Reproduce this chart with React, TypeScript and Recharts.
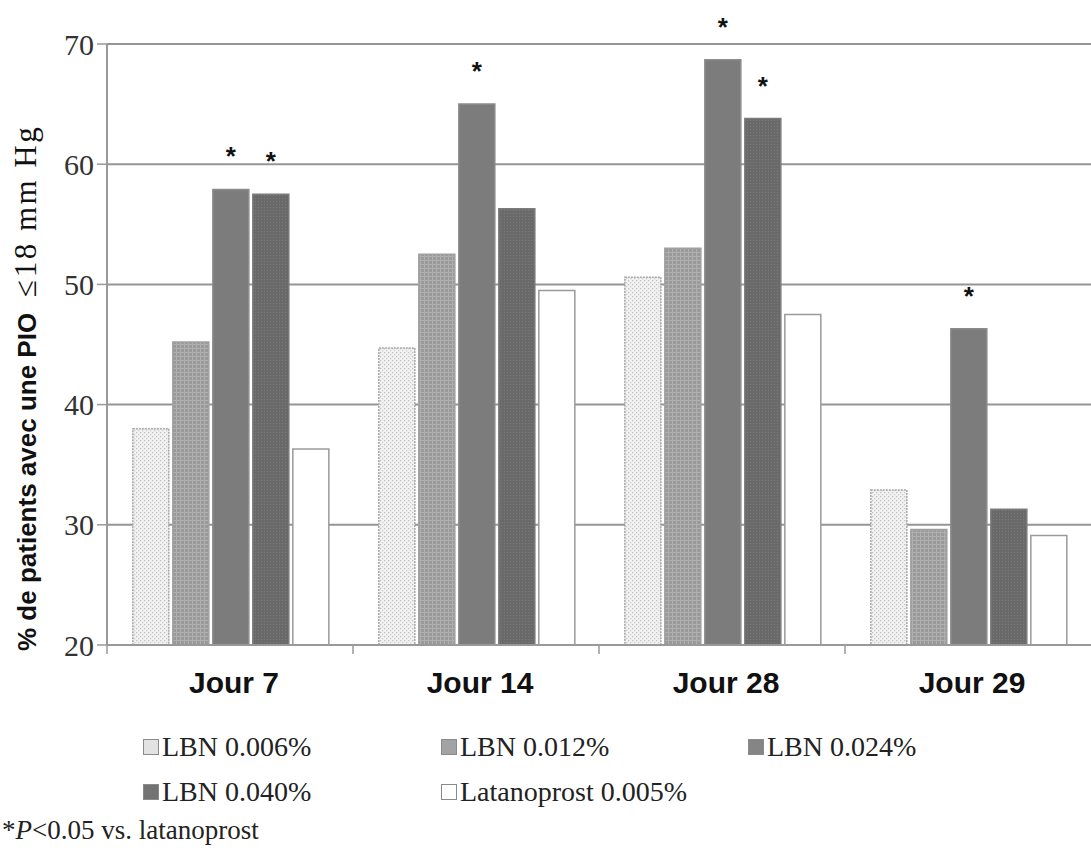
import React from 'react'
import { BarChart, Bar, XAxis, YAxis, CartesianGrid, LabelList } from 'recharts'

// Valeurs (% de patients avec PIO <= 18 mm Hg)
const categories = ['Jour 7', 'Jour 14', 'Jour 28', 'Jour 29']
const lbn006 = [38.0, 44.7, 50.6, 32.9]
const lbn012 = [45.2, 52.5, 53.0, 29.6]
const lbn024 = [57.9, 65.0, 68.7, 46.3]
const lbn040 = [57.5, 56.3, 63.8, 31.3]
const latanoprost = [36.3, 49.5, 47.5, 29.1]
// * P<0.05 vs. latanoprost
const sig024 = [true, true, true, true]
const sig040 = [true, false, true, false]
const yTicks = [20, 30, 40, 50, 60, 70]

const data = categories.map((day, i) => ({
  day,
  lbn006: lbn006[i],
  lbn012: lbn012[i],
  lbn024: lbn024[i],
  lbn040: lbn040[i],
  latanoprost: latanoprost[i],
}))

const series = [
  { key: 'lbn006', label: 'LBN 0.006%', fill: 'url(#p006)', stroke: '#a8a8a8', dash: '2 1', swatch: '#e2e2e2' },
  { key: 'lbn012', label: 'LBN 0.012%', fill: 'url(#p012)', stroke: '#a0a0a0', dash: undefined, swatch: '#a3a3a3' },
  { key: 'lbn024', label: 'LBN 0.024%', fill: '#7c7c7c', stroke: '#8c8c8c', dash: undefined, swatch: '#858585' },
  { key: 'lbn040', label: 'LBN 0.040%', fill: 'url(#p040)', stroke: '#7c7c7c', dash: undefined, swatch: '#737373' },
  { key: 'latanoprost', label: 'Latanoprost 0.005%', fill: '#ffffff', stroke: '#9a9a9a', dash: undefined, swatch: '#ffffff' },
]

const serif = '"Liberation Serif", "Times New Roman", serif'
const sans = '"Liberation Sans", Arial, sans-serif'

// tick de l'axe X : trait aux limites des catégories + libellé centré
function XTick(props: any) {
  const { x, y, payload } = props
  const off = payload?.offset ?? 123
  return (
    <g>
      <line x1={x - off} x2={x - off} y1={y} y2={y + 9} stroke="#999" strokeWidth={1.5} />
      <text x={x + 4} y={y + 48} textAnchor="middle" fontFamily={sans} fontWeight="bold" fontSize={30} fill="#111">
        {payload.value}
      </text>
    </g>
  )
}

function YLabel(props: any) {
  const vb = props.viewBox || { x: 0, y: 44, width: 107, height: 601 }
  const cx = 36
  const cy = vb.y + vb.height + 6
  return (
    <text transform={`translate(${cx},${cy}) rotate(-90)`} textAnchor="start" fill="#111">
      <tspan fontFamily={sans} fontWeight="bold" fontSize={26}>
        % de patients avec une PIO
      </tspan>
      <tspan fontFamily={serif} fontSize={31} dx={16} letterSpacing={2.5}>
        ≤18 mm Hg
      </tspan>
    </text>
  )
}

function starLabel(sig: boolean[]) {
  return (props: any) => {
    const { x, y, width, index } = props
    if (!sig[index]) return null
    return (
      <text x={x + width / 2} y={y - 24} textAnchor="middle" fontFamily={sans} fontWeight="bold" fontSize={26} fill="#111">
        *
      </text>
    )
  }
}

export default function App() {
  return (
    <div style={{ position: 'absolute', left: 0, top: 0, width: 1091, height: 848, background: '#fff', overflow: 'hidden' }}>
      <BarChart
        width={1091}
        height={710}
        data={data}
        margin={{ top: 44, right: 0, left: 0, bottom: 0 }}
        barCategoryGap="10.5%"
        barGap={4}
      >
        <defs>
          <pattern id="p006" width="4" height="4" patternUnits="userSpaceOnUse">
            <rect width="4" height="4" fill="#f2f2f2" />
            <rect x="0" y="0" width="1.3" height="1.3" fill="#c4c4c4" />
            <rect x="2" y="2" width="1.3" height="1.3" fill="#cfcfcf" />
          </pattern>
          <pattern id="p012" width="4" height="4" patternUnits="userSpaceOnUse">
            <rect width="4" height="4" fill="#9a9a9a" />
            <rect x="0" y="0" width="4" height="1" fill="#b0b0b0" />
            <rect x="0" y="0" width="1" height="4" fill="#b0b0b0" />
          </pattern>
          <pattern id="p040" width="3" height="3" patternUnits="userSpaceOnUse">
            <rect width="3" height="3" fill="#6a6a6a" />
            <rect x="0" y="0" width="1" height="1" fill="#7a7a7a" />
          </pattern>
        </defs>
        <CartesianGrid vertical={false} stroke="#959595" strokeWidth={2} />
        <XAxis
          dataKey="day"
          height={65}
          interval={0}
          axisLine={{ stroke: '#999', strokeWidth: 2 }}
          tickLine={false}
          tickSize={0}
          tickMargin={0}
          tick={<XTick />}
        />
        <YAxis
          width={107}
          domain={[20, 70]}
          ticks={yTicks}
          interval={0}
          tickSize={10}
          tickMargin={3}
          axisLine={{ stroke: '#999', strokeWidth: 2 }}
          tickLine={{ stroke: '#999', strokeWidth: 1.5 }}
          tick={{ fontFamily: serif, fontSize: 30, fill: '#333' }}
          label={<YLabel />}
        />
        {series.map((s) => (
          <Bar
            key={s.key}
            dataKey={s.key}
            name={s.label}
            fill={s.fill}
            stroke={s.stroke}
            strokeWidth={1.5}
            strokeDasharray={s.dash}
            isAnimationActive={false}
          >
            {s.key === 'lbn024' && <LabelList dataKey={s.key} content={starLabel(sig024)} />}
            {s.key === 'lbn040' && <LabelList dataKey={s.key} content={starLabel(sig040)} />}
          </Bar>
        ))}
      </BarChart>

      <div
        style={{
          position: 'absolute',
          left: 143,
          top: 724,
          display: 'grid',
          gridTemplateColumns: '298px 307px 300px',
          rowGap: 0,
          fontFamily: serif,
          fontSize: 28,
          lineHeight: '45px',
          color: '#222',
        }}
      >
        {series.map((s) => (
          <div key={s.key} style={{ display: 'flex', alignItems: 'center', whiteSpace: 'nowrap' }}>
            <span
              style={{
                display: 'inline-block',
                width: 14,
                height: 14,
                background: s.swatch,
                border: '1px solid #8a8a8a',
                marginRight: 3,
              }}
            />
            {s.label}
          </div>
        ))}
      </div>
      <div
        style={{
          position: 'absolute',
          left: 2,
          top: 815,
          fontFamily: serif,
          fontSize: 27,
          lineHeight: '30px',
          color: '#222',
          whiteSpace: 'nowrap',
        }}
      >
        *<i>P</i>&lt;0.05 vs. latanoprost
      </div>
    </div>
  )
}
